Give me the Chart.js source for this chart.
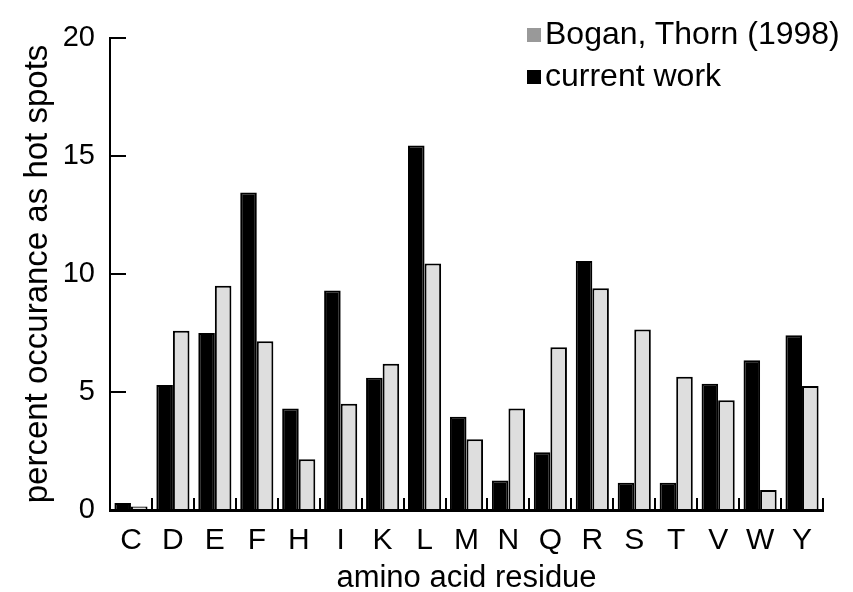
<!DOCTYPE html>
<html>
<head>
<meta charset="utf-8">
<script src="https://cdn.jsdelivr.net/npm/chart.js@4"></script>
<style>
    body { margin: 0; background: #fff; }
    #wrap { position: relative; width: 853px; height: 592px; }
    #legend { position: absolute; left: 527px; top: 14px; font-family: 'Liberation Sans', Arial, sans-serif; font-size: 32px; color: #000; }
    #legend div { height: 42px; line-height: 38px; white-space: nowrap; }
    #legend span.box { display: inline-block; width: 14px; height: 14px; margin-right: 4px; vertical-align: 2px; }
</style>
</head>
<body>
<div id="wrap">
    <canvas id="hotChart" width="853" height="592"></canvas>
    <div id="legend"></div>
</div>
<script>
const residues = ['C', 'D', 'E', 'F', 'H', 'I', 'K', 'L', 'M', 'N', 'Q', 'R', 'S', 'T', 'V', 'W', 'Y'];
const currentWork = [0.3, 5.3, 7.5, 13.45, 4.3, 9.3, 5.6, 15.45, 3.95, 1.25, 2.45, 10.55, 1.15, 1.15, 5.35, 6.35, 7.4];
const boganThorn = [0.15, 7.6, 9.5, 7.15, 2.15, 4.5, 6.2, 10.45, 3.0, 4.3, 6.9, 9.4, 7.65, 5.65, 4.65, 0.85, 5.25];
const yTicks = [0, 5, 10, 15, 20];

const font = "'Liberation Sans', Arial, sans-serif";

const data = {
    labels: residues,
    datasets: [{
        label: 'current work',
        data: currentWork,
        backgroundColor: '#000000',
        borderColor: '#000000',
        borderWidth: 2,
        legendColor: '#000000'
    }, {
        label: 'Bogan, Thorn (1998)',
        data: boganThorn,
        backgroundColor: '#dedede',
        borderColor: '#000000',
        borderWidth: 2,
        legendColor: '#999999'
    }]
};

const config = {
    type: 'bar',
    data,
    options: {
        responsive: false,
        animation: false,
        layout: { padding: { top: 38, right: 30, left: 0, bottom: 0 } },
        plugins: {
            legend: { display: false },
            tooltip: { enabled: false }
        },
        datasets: {
            bar: { categoryPercentage: 0.79, barPercentage: 1.0 }
        },
        scales: {
            x: {
                grid: { display: true, drawOnChartArea: false, offset: true, tickLength: -12, color: '#000', lineWidth: 2 },
                border: { display: true, color: '#000', width: 3 },
                ticks: { color: '#000', font: { family: font, size: 30 }, padding: 25, maxRotation: 0 },
                title: { display: true, text: 'amino acid residue', color: '#000', font: { family: font, size: 31 }, padding: { top: 0, bottom: -5 } },
                afterFit: (scale) => { scale.height = 82; }
            },
            y: {
                min: 0,
                max: 20,
                afterBuildTicks: (scale) => { scale.ticks = yTicks.map(v => ({ value: v })); },
                grid: { display: true, drawOnChartArea: false, tickLength: -16, color: '#000', lineWidth: 2 },
                border: { display: true, color: '#000', width: 2 },
                ticks: { color: '#000', font: { family: font, size: 29 }, padding: 31 },
                title: { display: true, text: 'percent occurance as hot spots', color: '#000', font: { family: font, size: 33 }, padding: { top: 18 } },
                afterFit: (scale) => {
                    scale.width = 110;
                    // tick padding would otherwise push the plot down
                    scale.paddingTop = 0;
                    scale.paddingBottom = 0;
                }
            }
        }
    }
};

const hotChart = new Chart(document.getElementById('hotChart'), config);

// legend, Bogan first like the original
const legend = document.getElementById('legend');
[1, 0].forEach(i => {
    const ds = data.datasets[i];
    const row = document.createElement('div');
    row.innerHTML = '<span class="box" style="background:' + ds.legendColor + '"></span>' + ds.label;
    legend.appendChild(row);
});
</script>
</body>
</html>
